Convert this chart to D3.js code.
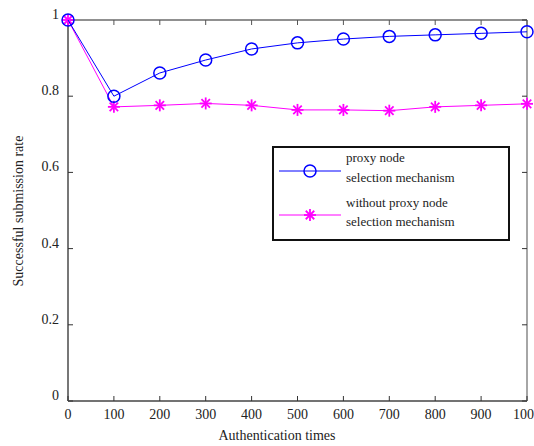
<!DOCTYPE html>
<html>
<head>
<meta charset="utf-8">
<script src="https://cdn.jsdelivr.net/npm/d3@7"></script>
<style>
  body { margin: 0; background: #fff; }
</style>
</head>
<body>
<div id="chart"></div>
<script>
var xValues = [0, 100, 200, 300, 400, 500, 600, 700, 800, 900, 1000];
var withProxy = [1, 0.8, 0.861, 0.895, 0.924, 0.94, 0.95, 0.957, 0.961, 0.965, 0.969];
var withoutProxy = [1, 0.772, 0.776, 0.781, 0.776, 0.764, 0.764, 0.762, 0.772, 0.776, 0.78];
var xTicks = [0, 100, 200, 300, 400, 500, 600, 700, 800, 900, 1000];
var yTicks = [0, 0.2, 0.4, 0.6, 0.8, 1];
var yTickLabels = ["0", "0.2", "0.4", "0.6", "0.8", "1"];
var seriesNames = [["proxy node", "selection mechanism"], ["without proxy node", "selection mechanism"]];

var W = 534, H = 446;
var margin = {top: 20, right: 7, bottom: 45, left: 68};
var FONT = "'Liberation Serif', 'DejaVu Serif', 'Times New Roman', serif";

var svg = d3.select("#chart").append("svg")
    .attr("width", W).attr("height", H)
    .attr("font-family", FONT);

var x = d3.scaleLinear().domain([0, 1000]).range([margin.left, W - margin.right]);
var y = d3.scaleLinear().domain([0, 1]).range([H - margin.bottom, margin.top]);

// frame
svg.append("line").attr("x1", x(0)).attr("x2", x(1000)).attr("y1", y(1)).attr("y2", y(1))
    .attr("stroke", "#222").attr("stroke-width", 1.2);
svg.append("line").attr("x1", x(0)).attr("x2", x(1000)).attr("y1", y(0)).attr("y2", y(0))
    .attr("stroke", "#444").attr("stroke-width", 1.5);
svg.append("line").attr("x1", x(0)).attr("x2", x(0)).attr("y1", y(0)).attr("y2", y(1))
    .attr("stroke", "#777").attr("stroke-width", 2);
svg.append("line").attr("x1", x(1000)).attr("x2", x(1000)).attr("y1", y(0)).attr("y2", y(1))
    .attr("stroke", "#888").attr("stroke-width", 1.5);

// ticks
var tk = 5;
xTicks.forEach(function(d) {
  svg.append("line").attr("x1", x(d)).attr("x2", x(d)).attr("y1", y(0)).attr("y2", y(0) - tk)
      .attr("stroke", "#333");
  svg.append("line").attr("x1", x(d)).attr("x2", x(d)).attr("y1", y(1)).attr("y2", y(1) + tk)
      .attr("stroke", "#555");
  svg.append("text").attr("x", x(d)).attr("y", y(0) + 18)
      .attr("text-anchor", "middle").attr("fill", "#222")
      .attr("font-family", FONT).attr("font-size", 14).text(d);
});
yTicks.forEach(function(d, i) {
  svg.append("line").attr("x1", x(0)).attr("x2", x(0) + tk).attr("y1", y(d)).attr("y2", y(d))
      .attr("stroke", "#333");
  svg.append("line").attr("x1", x(1000)).attr("x2", x(1000) - tk).attr("y1", y(d)).attr("y2", y(d))
      .attr("stroke", "#333");
  svg.append("text").attr("x", x(0) - 9).attr("y", y(d) - 1)
      .attr("text-anchor", "end").attr("fill", "#222")
      .attr("font-family", FONT).attr("font-size", 14).text(yTickLabels[i]);
});

// axis titles
svg.append("text").attr("x", 277).attr("y", 440).attr("text-anchor", "middle")
    .attr("fill", "#222").attr("font-family", FONT).attr("font-size", 14)
    .text("Authentication times");
svg.append("text").attr("transform", "translate(23," + 211 + ") rotate(-90)")
    .attr("text-anchor", "middle").attr("fill", "#222").attr("font-family", FONT)
    .attr("font-size", 14).text("Successful submission rate");

var line = d3.line().x(function(d, i) { return x(xValues[i]); }).y(function(d) { return y(d); });

function star(g, cx, cy, r, color) {
  for (var k = 0; k < 4; k++) {
    var a = k * Math.PI / 4;
    g.append("line")
      .attr("x1", cx - r * Math.cos(a)).attr("y1", cy - r * Math.sin(a))
      .attr("x2", cx + r * Math.cos(a)).attr("y2", cy + r * Math.sin(a))
      .attr("stroke", color).attr("stroke-width", 1.8);
  }
}

// magenta series
var gm = svg.append("g");
gm.append("path").datum(withoutProxy).attr("d", line)
    .attr("fill", "none").attr("stroke", "#ff00ff").attr("stroke-width", 1);
withoutProxy.forEach(function(d, i) { star(gm, x(xValues[i]), y(d), 6, "#ff00ff"); });

// blue series
var gb = svg.append("g");
gb.append("path").datum(withProxy).attr("d", line)
    .attr("fill", "none").attr("stroke", "#0000ff").attr("stroke-width", 1);
gb.selectAll("circle").data(withProxy).enter().append("circle")
    .attr("cx", function(d, i) { return x(xValues[i]); })
    .attr("cy", function(d) { return y(d); })
    .attr("r", 6).attr("fill", "none").attr("stroke", "#0000ff").attr("stroke-width", 1.5);

// legend
var lg = svg.append("g");
lg.append("rect").attr("x", 273).attr("y", 147).attr("width", 236).attr("height", 93)
    .attr("fill", "#fff").attr("stroke", "#111").attr("stroke-width", 2);
lg.append("line").attr("x1", 279).attr("x2", 341).attr("y1", 171).attr("y2", 171)
    .attr("stroke", "#0000ff").attr("stroke-width", 1);
lg.append("circle").attr("cx", 310).attr("cy", 171).attr("r", 6)
    .attr("fill", "none").attr("stroke", "#0000ff").attr("stroke-width", 1.5);
lg.append("line").attr("x1", 279).attr("x2", 341).attr("y1", 215).attr("y2", 215)
    .attr("stroke", "#ff00ff").attr("stroke-width", 1);
star(lg, 310, 215, 6, "#ff00ff");
var ly = [[162, 182], [207, 226]];
seriesNames.forEach(function(names, i) {
  names.forEach(function(n, j) {
    lg.append("text").attr("x", 346).attr("y", ly[i][j]).attr("fill", "#222")
      .attr("font-family", FONT).attr("font-size", 13).text(n);
  });
});
</script>
</body>
</html>
